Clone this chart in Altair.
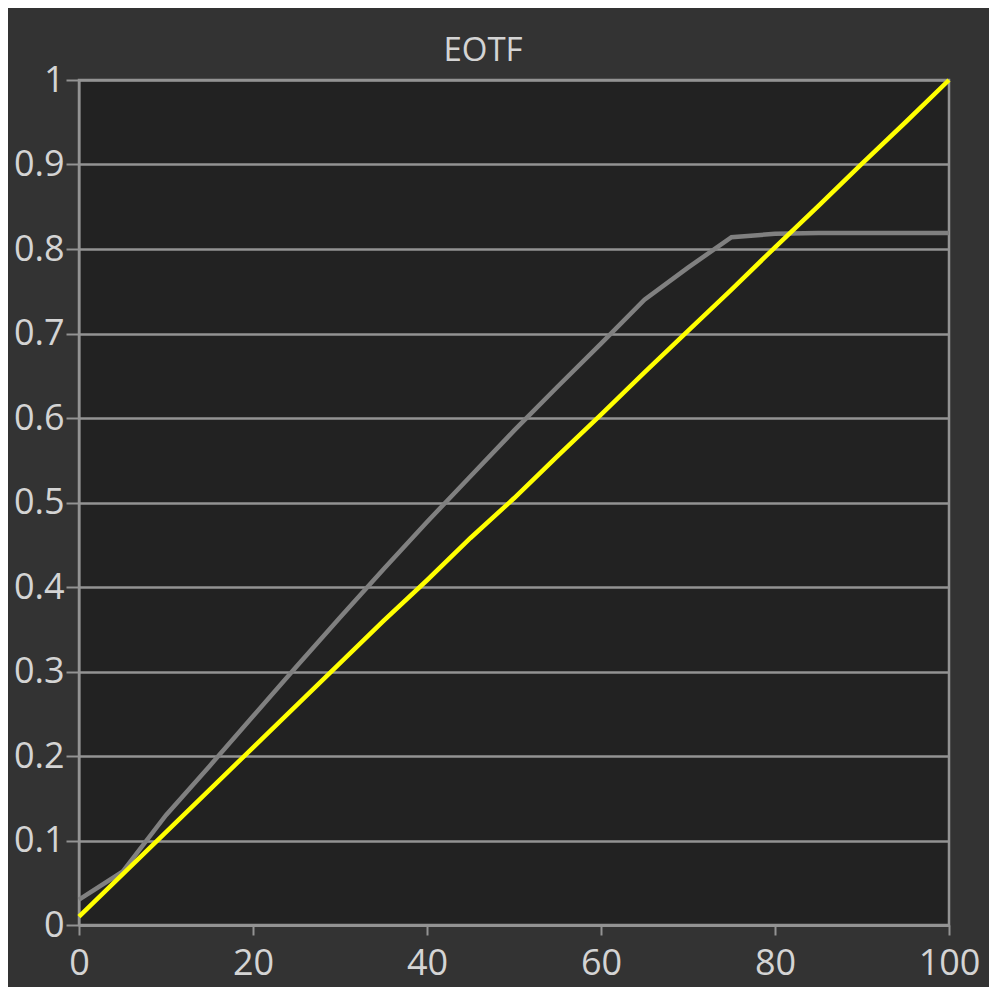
import altair as alt
import pandas as pd

# Stimulus level (%)
x_pct = [0, 5, 10, 15, 20, 25, 30, 35, 40, 45, 50, 55, 60, 65, 70, 75, 80, 85, 90, 95, 100]
# Measured EOTF (gray)
measured = [0.030, 0.063, 0.130, 0.188, 0.247, 0.306, 0.364, 0.421, 0.477, 0.531, 0.585,
            0.637, 0.688, 0.740, 0.778, 0.814, 0.818, 0.819, 0.819, 0.819, 0.819]
# Target (yellow)
target = [0.010, 0.060, 0.110, 0.160, 0.210, 0.260, 0.310, 0.360, 0.408, 0.458, 0.505,
          0.555, 0.604, 0.654, 0.703, 0.752, 0.802, 0.851, 0.901, 0.950, 1.000]

x_ticks = [0, 20, 40, 60, 80, 100]
y_ticks = [0, 0.1, 0.2, 0.3, 0.4, 0.5, 0.6, 0.7, 0.8, 0.9, 1.0]

rows = []
for i, xv in enumerate(x_pct):
    rows.append({"x": xv, "y": measured[i], "series": "measured"})
    rows.append({"x": xv, "y": target[i], "series": "target"})
df = pd.DataFrame(rows)

FONT = "Open Sans"
TXT = "#d4d4d4"
GRID = "#939393"

chart = alt.Chart(df).mark_line(strokeWidth=4.5).encode(
    x=alt.X("x:Q", scale=alt.Scale(domain=[0, 100], nice=False),
            axis=alt.Axis(values=x_ticks, title=None, grid=False, format="d",
                          tickSize=10, tickWidth=2, tickColor=GRID,
                          domainColor=GRID, domainWidth=3,
                          labelFlush=False, labelBound=False,
                          labelPadding=11, labelFontSize=36, labelColor=TXT,
                          labelFont=FONT)),
    y=alt.Y("y:Q", scale=alt.Scale(domain=[0, 1], nice=False),
            axis=alt.Axis(values=y_ticks, title=None, grid=True, format="~g",
                          gridColor=GRID, gridWidth=2.5,
                          tickSize=13, tickWidth=2, tickColor=GRID,
                          domainColor=GRID, domainWidth=2,
                          labelFlush=False, labelBound=False,
                          labelPadding=2, labelFontSize=36, labelColor=TXT,
                          labelFont=FONT)),
    color=alt.Color("series:N", scale=alt.Scale(domain=["measured", "target"],
                                                range=["#808080", "#ffff00"]),
                    legend=None),
    order=alt.Order("series:N"),
).properties(
    width=870,
    height=845,
    title=alt.TitleParams("EOTF", fontSize=33, color=TXT, font=FONT,
                          fontWeight="normal", anchor="middle",
                          offset=4, dx=-31, dy=10),
    background="#333333",
    padding={"left": 71, "top": 72, "right": 40, "bottom": 62},
    autosize=alt.AutoSizeParams(type="none"),
).configure_view(
    fill="#222222", stroke=GRID, strokeWidth=2.5
)

chart.save("out.html", embed_options={"renderer": "svg", "actions": False})
